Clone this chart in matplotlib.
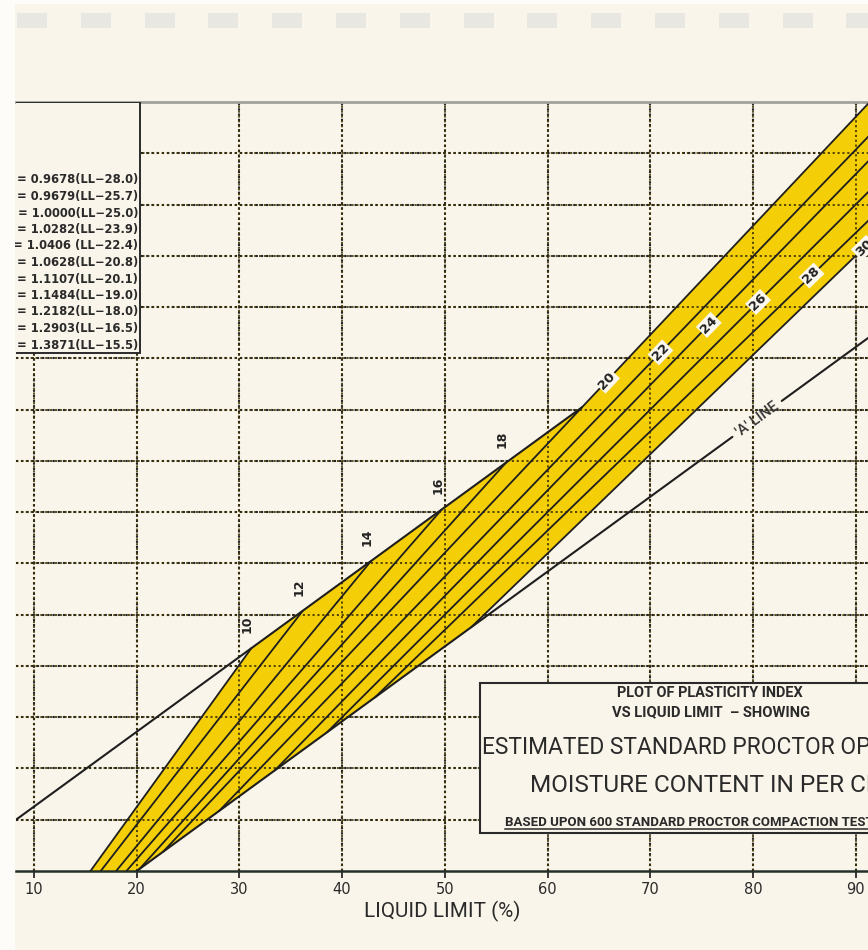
import numpy as np
import matplotlib
matplotlib.use("Agg")
import matplotlib.pyplot as plt
from matplotlib.patches import Rectangle, Polygon

# ---------------------------------------------------------------------------
# Data: optimum moisture content (OMC, %) and the fitted relation
#        PI = slope * (LL - offset)
# ---------------------------------------------------------------------------
omc = [30, 28, 26, 24, 22, 20, 18, 16, 14, 12, 10]
slopes = [0.9678, 0.9679, 1.0000, 1.0282, 1.0406, 1.0628,
          1.1107, 1.1484, 1.2182, 1.2903, 1.3871]
offsets = [28.0, 25.7, 25.0, 23.9, 22.4, 20.8, 20.1, 19.0, 18.0, 16.5, 15.5]
legend_entries = [
    "= 0.9678(LL\u221228.0)", "= 0.9679(LL\u221225.7)", "= 1.0000(LL\u221225.0)",
    "= 1.0282(LL\u221223.9)", "= 1.0406 (LL\u221222.4)", "= 1.0628(LL\u221220.8)",
    "= 1.1107(LL\u221220.1)", "= 1.1484(LL\u221219.0)", "= 1.2182(LL\u221218.0)",
    "= 1.2903(LL\u221216.5)", "= 1.3871(LL\u221215.5)",
]

# Casagrande A-line and the upper limit of the data: PI = slope * (LL - offset)
a_line = (0.73, 20.0)
upper_line = (0.73, 1.4)

x_ticks = [10, 20, 30, 40, 50, 60, 70, 80, 90]
y_grid = [5, 10, 15, 20, 25, 30, 35, 40, 45, 50, 55, 60, 65, 70]

# ---------------------------------------------------------------------------
PAPER = "#FAF5EA"
YELLOW = "#F4CF08"
INK = "#1E1E1E"
TXT = "#2A2A2A"
W, H, DPI = 868, 950, 100

X_MIN, X_MAX, Y_MIN, Y_MAX = 8.25, 91.2, 0.0, 75.0
AX_L, AX_R, AX_T, AX_B = 16, 868, 102, 871   # axes box in pixels

SANS = ["Roboto", "DejaVu Sans"]


def fpos(px, py):
    """Figure-fraction position from pixel offsets (origin top-left)."""
    return px / W, 1 - py / H


def apos(px, py):
    """Axes-fraction position from pixel offsets (origin top-left)."""
    return (px - AX_L) / (AX_R - AX_L), (AX_B - py) / (AX_B - AX_T)


def pi_of(slope, off, ll):
    return slope * (ll - off)


def meet(l1, l2):
    (s1, c1), (s2, c2) = l1, l2
    ll = (s1 * c1 - s2 * c2) / (s1 - s2)
    return ll, s1 * (ll - c1)


fig = plt.figure(figsize=(W / DPI, H / DPI), dpi=DPI, facecolor=PAPER)
renderer = fig.canvas.get_renderer()


def fit_size(sample, width_px, **kw):
    """Font size at which `sample` is `width_px` pixels wide."""
    probe = fig.text(0, 0, sample, fontsize=10, **kw)
    w = probe.get_window_extent(renderer).width
    probe.remove()
    return 10.0 * width_px / w


# paper edges and the faint strip of marks along the top
fig.patches.append(Rectangle((0, 0), 15 / W, 1, transform=fig.transFigure,
                             fc="#FDFCF8", ec="none", zorder=0))
fig.patches.append(Rectangle((0, 1 - 4 / H), 1, 4 / H, transform=fig.transFigure,
                             fc="#FDFCF8", ec="none", zorder=0))
for i in range(14):
    x0, y0 = fpos(17 + 63.8 * i, 28)
    fig.patches.append(Rectangle((x0, y0), 30 / W, 15 / H, transform=fig.transFigure,
                                 fc="#E8E7E2", ec="none", zorder=0))

ax = fig.add_axes([AX_L / W, (H - AX_B) / H, (AX_R - AX_L) / W, (AX_B - AX_T) / H])
ax.set_facecolor(PAPER)
ax.set_xlim(X_MIN, X_MAX)
ax.set_ylim(Y_MIN, Y_MAX)

for side in ("left", "right"):
    ax.spines[side].set_visible(False)
ax.spines["top"].set_color("#A3A19C")
ax.spines["top"].set_linewidth(2.0)
ax.spines["bottom"].set_color("#24302A")
ax.spines["bottom"].set_linewidth(1.8)

ax.set_xticks(x_ticks)
ax.set_yticks([])
ax.tick_params(axis="x", direction="out", length=5, width=1.3, pad=3,
               labelsize=10.5, colors=TXT)

# dotted grid
dots = (0, (1.1, 1.4))
ax.vlines(x_ticks, Y_MIN, Y_MAX, colors="#262626", linestyles=dots, lw=1.5, zorder=1)
ax.hlines(y_grid, X_MIN, X_MAX, colors="#262626", linestyles=dots, lw=1.5, zorder=1)

# ---------------------------------------------------------------------------
# Yellow band bounded by OMC 10, the upper limit line, OMC 20, OMC 30 and the A-line
# ---------------------------------------------------------------------------
i10, i20, i30 = omc.index(10), omc.index(20), omc.index(30)


def line_of(i):
    return slopes[i], offsets[i]


far = 96.0
band = [
    (offsets[i10], 0.0),
    (a_line[1], 0.0),
    meet(a_line, line_of(i30)),
    (far, pi_of(*line_of(i30), far)),
    (far, pi_of(*line_of(i20), far)),
    meet(upper_line, line_of(i20)),
    meet(upper_line, line_of(i10)),
]
ax.add_patch(Polygon(band, closed=True, fc=YELLOW, ec="none", zorder=2))

# grid stays visible over the band
ax.vlines(x_ticks, Y_MIN, Y_MAX, colors="#3A2E00", linestyles=dots, lw=1.4,
          zorder=2.5, alpha=0.85)
ax.hlines(y_grid, X_MIN, X_MAX, colors="#3A2E00", linestyles=dots, lw=1.4,
          zorder=2.5, alpha=0.85)

# upper limit line
u_end = meet(upper_line, line_of(i20))[0]
u_x = np.array([X_MIN - 2, u_end])
ax.plot(u_x, pi_of(*upper_line, u_x), color=INK, lw=1.5, zorder=3,
        solid_capstyle="round")

# A-line, broken where its label sits
gap = (78.0, 82.8)
for seg in ((a_line[1], gap[0]), (gap[1], far)):
    sx = np.array(seg)
    ax.plot(sx, pi_of(*a_line, sx), color=INK, lw=1.5, zorder=3,
            solid_capstyle="round")
lab_ll = 0.5 * (gap[0] + gap[1])
ax.text(lab_ll, pi_of(*a_line, lab_ll), "'A' LINE", fontsize=10.5, color="#333333",
        family=SANS, fontweight="medium",
        rotation=np.degrees(np.arctan(a_line[0])), transform_rotates_text=True,
        rotation_mode="anchor", ha="center", va="center", zorder=4)

# OMC contour lines
for i, (m, s, c) in enumerate(zip(omc, slopes, offsets)):
    start = (c, 0.0) if c <= a_line[1] else meet(a_line, (s, c))
    if m >= 20:
        end = (far, pi_of(s, c, far))
    else:
        end = meet(upper_line, (s, c))
    ax.plot([start[0], end[0]], [start[1], end[1]], color=INK, lw=1.3, zorder=3,
            solid_capstyle="round")
    if m < 20:
        ax.annotate(str(m), xy=end, xytext=(-3, 17), textcoords="offset points",
                    rotation=90, ha="center", va="center", fontsize=9,
                    fontweight="bold", color="#222222", zorder=4)

# inline labels on the steep part of the band
inline_ll = {20: 65.8, 22: 71.0, 24: 75.7, 26: 80.5, 28: 85.7, 30: 90.8}
for m, ll in inline_ll.items():
    i = omc.index(m)
    ax.text(ll, pi_of(slopes[i], offsets[i], ll), str(m), fontsize=9.5, fontweight="bold",
            color="#222222", rotation=np.degrees(np.arctan(slopes[i])),
            transform_rotates_text=True, rotation_mode="anchor",
            ha="center", va="center", zorder=5, clip_on=True,
            bbox=dict(boxstyle="square,pad=0.1", fc="#FBF8F0", ec="none"))

# ---------------------------------------------------------------------------
# Equation list (left)
# ---------------------------------------------------------------------------
bx0, by0 = apos(-20, 353)
bx1, by1 = apos(140, 102)
ax.add_patch(Rectangle((bx0, by0), bx1 - bx0, by1 - by0, transform=ax.transAxes,
                       fc=PAPER, ec=TXT, lw=1.4, zorder=6, clip_on=True))
leg_size = fit_size(legend_entries[0], 122, fontweight="bold")
for k, entry in enumerate(legend_entries):
    tx, ty = apos(138, 180 + 16.5 * k)
    ax.text(tx, ty, entry, transform=ax.transAxes, ha="right", va="center",
            fontsize=leg_size, fontweight="bold", color=TXT, zorder=7)

# ---------------------------------------------------------------------------
# Title block (lower right); each line is sized from the width of its first words
# ---------------------------------------------------------------------------
tx0, ty0 = apos(480, 833)
tx1, ty1 = apos(945, 683)
ax.add_patch(Rectangle((tx0, ty0), tx1 - tx0, ty1 - ty0, transform=ax.transAxes,
                       fc=PAPER, ec=TXT, lw=1.5, zorder=6, clip_on=True))
title_lines = [
    # text, lead words, lead width px, left px, centre y px, weight
    ("PLOT OF PLASTICITY INDEX", "PLOT OF PLASTICITY INDEX", 187, 617, 693, "bold"),
    ("VS LIQUID LIMIT  \u2013 SHOWING", "VS LIQUID LIMIT  \u2013 SHOWING", 198, 612, 712, "bold"),
    ("ESTIMATED STANDARD PROCTOR OPTIMUM", "ESTIMATED STANDARD PROCTOR", 350, 482, 748, "normal"),
    ("MOISTURE CONTENT IN PER CENT", "MOISTURE CONTENT IN PER", 313, 530, 786, "normal"),
    ("BASED UPON 600 STANDARD PROCTOR COMPACTION TESTS", "BASED UPON 600 STANDARD PROCTOR",
     242, 505, 822, "bold"),
]
for text, lead, lead_w, left, ty, weight in title_lines:
    size = fit_size(lead, lead_w, family=SANS, fontweight=weight)
    px, py = apos(left, ty)
    ax.text(px, py, text, transform=ax.transAxes, ha="left", va="center",
            fontsize=size, fontweight=weight, family=SANS, color=TXT,
            zorder=7, clip_on=True)
ux0, uy = apos(505, 829)
ux1, _ = apos(930, 829)
ax.plot([ux0, ux1], [uy, uy], transform=ax.transAxes, color=TXT, lw=1.1,
        zorder=7, clip_on=True)

xl_size = fit_size("LIQUID LIMIT (%)", 155, family=SANS)
lx, ly = fpos(442, 911)
fig.text(lx, ly, "LIQUID LIMIT (%)", ha="center", va="center", fontsize=xl_size,
         family=SANS, color=TXT)

fig.savefig("out.png", dpi=DPI, facecolor=PAPER)
